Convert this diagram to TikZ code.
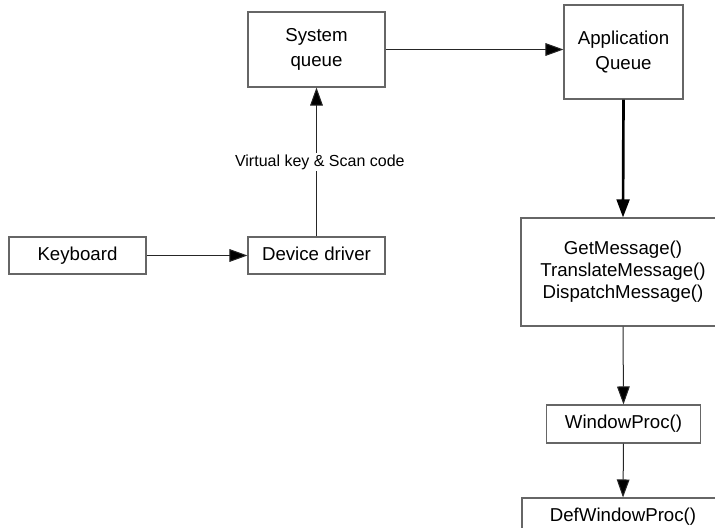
\documentclass[tikz,border=0pt]{standalone}
\usepackage{fontspec}
\setmainfont{Liberation Sans}
\usetikzlibrary{arrows.meta,calc}

% one screen pixel
\newdimen\pxu
\pxu=0.75pt

\tikzset{
  box/.style={draw=black!60, line width=0.8pt, fill=white, inner sep=0pt,
    align=center, font=\fontsize{14}{18.75}\selectfont},
  onerow/.style={box, text height=10pt, text depth=3pt},
  flow/.style={draw=black!85, line width=0.75pt,
    -{Triangle[length=13.5pt,width=9.5pt,fill=black]}},
  heavy/.style={flow, draw=black, line width=2pt},
  lbl/.style={fill=white, inner sep=1pt, font=\fontsize{12}{14}\selectfont}
}

\begin{document}
\begin{tikzpicture}[x=0.75pt, y=-0.75pt]
  \useasboundingbox (0,0) rectangle (715,528);
  \clip (0,0) rectangle (715,528);

  % input side
  \node[onerow, minimum width=137\pxu, minimum height=37\pxu] (kbd) at (77.5,255.5) {Keyboard};
  \node[onerow, minimum width=137\pxu, minimum height=37\pxu] (drv) at (316.5,255.5) {Device driver};
  \node[box, minimum width=137\pxu, minimum height=75\pxu] (sysq) at (316.5,49.5) {System\\queue};

  % application side
  \node[box, minimum width=119\pxu, minimum height=94\pxu] (appq) at (623.5,52) {Application\\Queue};
  \node[box, minimum width=204\pxu, minimum height=108\pxu,
        font=\fontsize{14}{16.5}\selectfont] (loop) at (623,272)
        {GetMessage()\\TranslateMessage()\\DispatchMessage()};
  \node[onerow, minimum width=154\pxu, minimum height=38\pxu] (wproc) at (623.5,424) {WindowProc()};
  \node[onerow, minimum width=202\pxu, minimum height=38\pxu] (defproc) at (623,517) {DefWindowProc()};

  % connectors
  \draw[flow] (kbd.east) -- (drv.west);
  \draw[flow] (drv.north) -- node[lbl, pos=0.5, xshift=2.5pt] {Virtual key \& Scan code} (sysq.south);
  \draw[flow] (sysq.east) -- (sysq.east -| appq.west);
  \draw[heavy] (appq.south) -- (loop.north);
  \draw[flow] (loop.south) -- (wproc.north);
  \draw[flow] (wproc.south) -- (defproc.north);
\end{tikzpicture}
\end{document}
